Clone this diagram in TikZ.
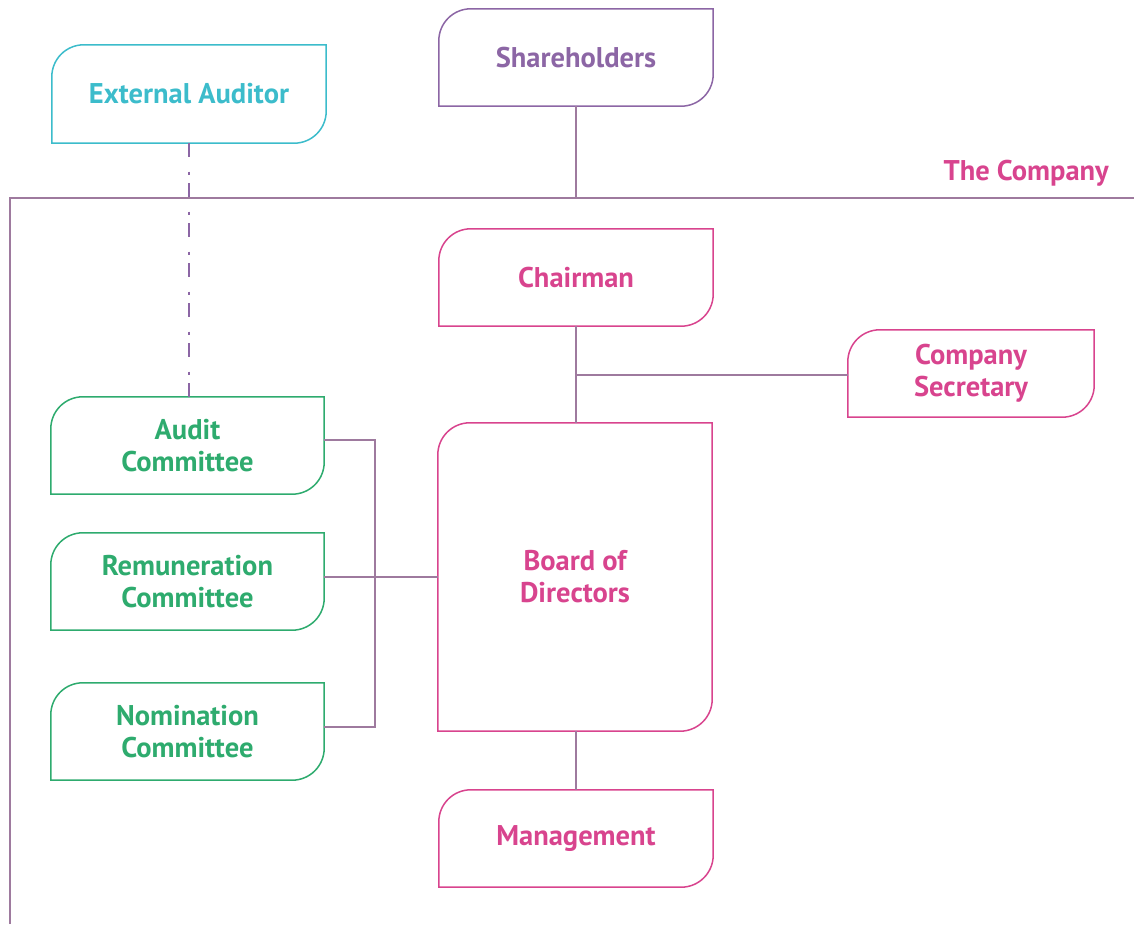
\documentclass[tikz,border=0pt]{standalone}
\usepackage{fontspec}
\setmainfont{PT Sans}
\definecolor{cyanc}{HTML}{3CBCCB}
\definecolor{purc}{HTML}{8C66A5}
\definecolor{pinkc}{HTML}{D8448E}
\definecolor{greenc}{HTML}{2EAB6E}
\definecolor{linec}{HTML}{9E7A9E}
\tikzset{
  org/.style={minimum width=#1, inner sep=0pt, align=center, font=\fontsize{28.5}{32}\selectfont\bfseries},
  conn/.style={draw=linec, line width=1.3pt},
  outline/.style={line width=1.5pt},
}
\newcommand{\orgbox}[2]{%
  \draw[outline,#2] (#1.south west) -- ([yshift=-32pt]#1.north west)
    arc[start angle=180,end angle=90,radius=32pt] -- (#1.north east)
    -- ([yshift=32pt]#1.south east) arc[start angle=0,end angle=-90,radius=32pt] -- cycle;}
\begin{document}
\begin{tikzpicture}[x=1pt,y=1pt]
\useasboundingbox (0,0) rectangle (1134,924);
% nodes
\node[org=274pt, minimum height=98pt, text=cyanc] (ext) at (189,830) {External Auditor};
\node[org=274pt, minimum height=97pt, text=purc] (sh) at (576,866.5) {Shareholders};
\node[org=274pt, minimum height=97pt, text=pinkc] (ch) at (576,646.5) {Chairman};
\node[org=246pt, minimum height=87pt, text=pinkc] (sec) at (971,550.5) {Company\\Secretary};
\node[org=273pt, minimum height=97pt, text=greenc] (aud) at (187.5,478.5) {Audit\\Committee};
\node[org=273pt, minimum height=97pt, text=greenc] (rem) at (187.5,342.5) {Remuneration\\Committee};
\node[org=273pt, minimum height=97pt, text=greenc] (nom) at (187.5,192.5) {Nomination\\Committee};
\node[org=274pt, minimum height=308pt, text=pinkc] (bod) at (575,347) {Board of\\Directors};
\node[org=274pt, minimum height=97pt, text=pinkc] (mg) at (576,85.5) {Management};
\node[anchor=base east, inner sep=0pt, text=pinkc, font=\fontsize{28.5}{32}\selectfont\bfseries] (co) at (1109,743) {The Company};
% outlines
\orgbox{ext}{draw=cyanc}
\orgbox{sh}{draw=purc}
\orgbox{ch}{draw=pinkc}
\orgbox{sec}{draw=pinkc}
\orgbox{aud}{draw=greenc}
\orgbox{rem}{draw=greenc}
\orgbox{nom}{draw=greenc}
\orgbox{bod}{draw=pinkc}
\orgbox{mg}{draw=pinkc}
% company boundary
\coordinate (cl) at (10,0);
\coordinate (ctl) at (10,726);
\coordinate (ctr) at (1134,726);
\draw[conn] (cl) -- (ctl) -- (ctr);
% connectors
\draw[conn] (sh.south) -- (sh.south |- ctl);
\draw[conn] (ch.south) -- (ch.south |- bod.north);
\coordinate (j1) at (576,549);
\draw[conn] (j1) -- (j1 -| sec.west);
\draw[conn] (bod.south -| mg.south) -- (mg.north);
\coordinate (bt) at (375,484);
\coordinate (bb) at (375,197);
\draw[conn] (aud.east |- bt) -- (bt) -- (bb) -- (nom.east |- bb);
\draw[conn] (bod.west) -- (bod.west -| rem.east);
\draw[draw=purc, line width=1.6pt, dash pattern=on 14pt off 14.5pt on 3pt off 8.5pt] (ext.south) -- (ext.south |- aud.north);
\end{tikzpicture}
\end{document}
